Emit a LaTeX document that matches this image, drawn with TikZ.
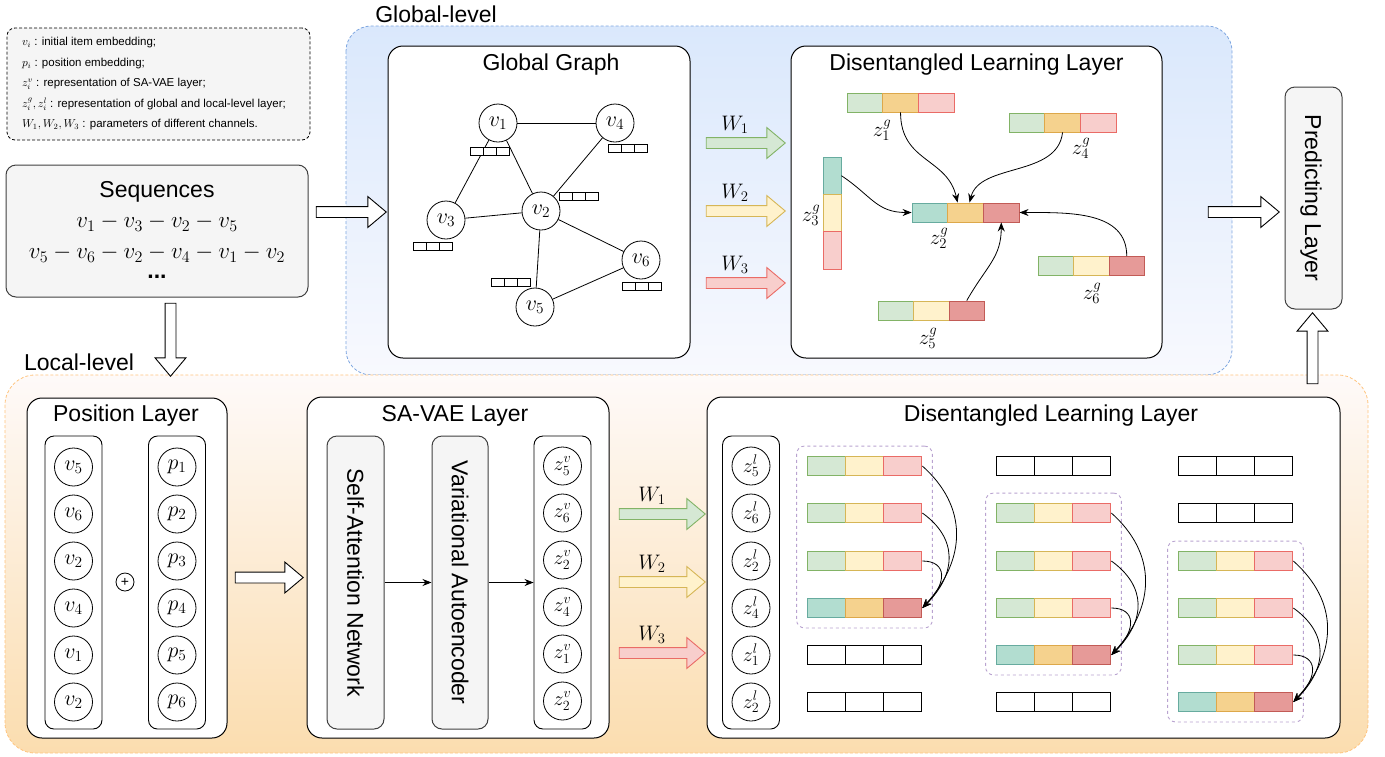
\RequirePackage{fix-cm}
\documentclass[tikz,border=0pt]{standalone}
\usepackage[no-math]{fontspec}
\setmainfont{Liberation Sans}
\usetikzlibrary{shapes.arrows,arrows.meta,fit,positioning}

\definecolor{gA}{HTML}{D5E8D4}\definecolor{gB}{HTML}{82B366}
\definecolor{yA}{HTML}{FFF2CC}\definecolor{yB}{HTML}{D6B656}
\definecolor{rA}{HTML}{F8CECC}\definecolor{rB}{HTML}{EA6B66}
\definecolor{tA}{HTML}{B2DDD0}\definecolor{tB}{HTML}{67AB9F}
\definecolor{oA}{HTML}{F5D28E}\definecolor{oB}{HTML}{DDA84A}
\definecolor{dA}{HTML}{E69A98}\definecolor{dB}{HTML}{C25B56}
\definecolor{wA}{HTML}{FFFFFF}\definecolor{wB}{HTML}{000000}
\definecolor{legF}{HTML}{F5F5F5}
\definecolor{globB}{HTML}{7EA6E0}\definecolor{globT}{HTML}{DAE8FC}\definecolor{globL}{HTML}{F8F9FE}
\definecolor{locB}{HTML}{FFC47E}\definecolor{locT}{HTML}{FEFAF9}\definecolor{locL}{HTML}{FBDDAF}
\definecolor{puB}{HTML}{B9A3D0}

\tikzset{
  ttl/.style={font=\fontsize{23}{27}\selectfont},
  mth/.style={font=\fontsize{21}{25}\selectfont},
  lyr/.style={draw, line width=1pt, rounded corners=15pt, fill=white},
  gry/.style={draw=black!75, line width=1pt, rounded corners=10pt, fill=legF},
  colbox/.style={draw, line width=0.9pt, rounded corners=9pt, fill=white, minimum width=57pt, minimum height=293pt},
  gnode/.style={draw, circle, line width=0.8pt, fill=white, minimum size=38pt, inner sep=0pt, font=\fontsize{22}{26}\selectfont},
  cnode/.style={gnode, font=\fontsize{20}{24}\selectfont},
  cell/.style={draw, line width=0.9pt, inner sep=0pt},
  blk/.style={single arrow, draw, line width=0.9pt, fill=white, inner xsep=0pt, inner ysep=5pt, minimum width=30pt, single arrow head extend=10pt, single arrow tip angle=80},
  grp/.style={draw=puB, dash pattern=on 3pt off 3pt, line width=0.9pt, rounded corners=8pt, inner sep=10pt},
  arr/.style={-{Stealth[length=9pt,width=7pt]}, line width=0.8pt},
}

% name, left x, centre y, cell width, cell height, three colours
\newcommand{\embbar}[8]{%
  \node[cell, minimum width=#4pt, minimum height=#5pt, fill=#6A, draw=#6B] (#1-1) at ({#2+0.5*#4},#3) {};
  \node[cell, minimum width=#4pt, minimum height=#5pt, fill=#7A, draw=#7B] (#1-2) at ({#2+1.5*#4},#3) {};
  \node[cell, minimum width=#4pt, minimum height=#5pt, fill=#8A, draw=#8B] (#1-3) at ({#2+2.5*#4},#3) {};
}

\begin{document}
\begin{tikzpicture}[x=1pt,y=-1pt]
  \useasboundingbox (0,0) rectangle (1385,756);

  % level backgrounds
  \path[draw=globB, dash pattern=on 3pt off 2pt, line width=0.8pt, top color=globT, bottom color=globL, rounded corners=25pt] (346,26) rectangle (1232,375);
  \path[draw=locB, dash pattern=on 3pt off 2pt, line width=0.8pt, top color=locT, bottom color=locL, rounded corners=30pt] (5,375) rectangle (1368,753);
  \node[ttl] (globlbl) at (436,14) {Global-level};
  \node[ttl] (loclbl) at (79,362) {Local-level};

  % legend
  \node[draw, fill=legF, dash pattern=on 3pt off 2pt, line width=0.8pt, rounded corners=8pt, minimum width=303pt, minimum height=112pt] (leg) at (158.5,84) {};
  \node[anchor=west, align=left, font=\fontsize{11.5}{20.5}\selectfont] (legtxt) at ([xshift=12pt]leg.west)
    {$v_i$ : initial item embedding;\\
     $p_i$ : position embedding;\\
     $z_i^v$ : representation of SA-VAE layer;\\
     $z_i^g, z_i^l$ : representation of global and local-level layer;\\
     $W_1, W_2, W_3$ : parameters of different channels.};

  % sequences
  \node[gry, minimum width=302pt, minimum height=132pt] (seq) at (157,231) {};
  \node[ttl] (seqt) at (157,192) {Sequences};
  \node[font=\fontsize{23}{27}\selectfont] (seq1) at (157,223) {$v_1 - v_3 - v_2 - v_5$};
  \node[font=\fontsize{23}{27}\selectfont] (seq2) at (157,254) {$v_5 - v_6 - v_2 - v_4 - v_1 - v_2$};
  \node[ttl] (seq3) at (157,277) {\textbf{...}};
  \node[blk, minimum height=70pt] (aseq) at (348,212) {};
  \node[blk, minimum height=73pt, rotate=-90] (adown) at (170.5,336.5) {};

  % global graph
  \node[lyr, minimum width=302pt, minimum height=312pt] (gg) at (539,202) {};
  \node[ttl] (ggt) at (551,65) {Global Graph};
  \node[gnode] (v1) at (498,123) {$v_1$};
  \node[gnode] (v4) at (615,123) {$v_4$};
  \node[gnode] (v3) at (446,220) {$v_3$};
  \node[gnode] (v2) at (541,211) {$v_2$};
  \node[gnode] (v6) at (641,260) {$v_6$};
  \node[gnode] (v5) at (535,307) {$v_5$};
  \draw[line width=0.8pt] (v1) -- (v4);
  \draw[line width=0.8pt] (v1) -- (v3);
  \draw[line width=0.8pt] (v1) -- (v2);
  \draw[line width=0.8pt] (v4) -- (v2);
  \draw[line width=0.8pt] (v3) -- (v2);
  \draw[line width=0.8pt] (v2) -- (v6);
  \draw[line width=0.8pt] (v2) -- (v5);
  \draw[line width=0.8pt] (v5) -- (v6);
  \embbar{m1}{470}{151}{13.3}{8}{w}{w}{w}
  \embbar{m4}{608}{148}{13.3}{8}{w}{w}{w}
  \embbar{m2}{559}{196}{13.3}{8}{w}{w}{w}
  \embbar{m3}{413}{246}{13.3}{8}{w}{w}{w}
  \embbar{m5}{491}{282}{13.3}{8}{w}{w}{w}
  \embbar{m6}{622}{286}{13.3}{8}{w}{w}{w}

  % channel arrows (global)
  \node[blk, fill=gA, draw=gB, minimum height=79pt] (gw1) at (742.5,143) {};
  \node[blk, fill=yA, draw=yB, minimum height=79pt] (gw2) at (742.5,211) {};
  \node[blk, fill=rA, draw=rB, minimum height=79pt] (gw3) at (742.5,283) {};
  \node[mth] (gw1l) at (735,125) {$W_1$};
  \node[mth] (gw2l) at (735,193) {$W_2$};
  \node[mth] (gw3l) at (735,265) {$W_3$};

  % disentangled learning layer (global)
  \node[lyr, minimum width=371pt, minimum height=312pt] (gdl) at (976.5,202) {};
  \node[ttl] (gdlt) at (976.5,65) {Disentangled Learning Layer};
  \embbar{z1}{847}{102.5}{35.7}{19}{g}{o}{r}
  \embbar{z4}{1009}{122.5}{35.7}{19}{g}{o}{r}
  \embbar{z2}{912}{212.5}{35.7}{19}{t}{o}{d}
  \embbar{z6}{1038}{266}{35.5}{19}{g}{y}{d}
  \embbar{z5}{878}{310.5}{35.5}{19}{g}{y}{d}
  \node[cell, minimum width=18pt, minimum height=37.3pt, fill=tA, draw=tB] (z3-1) at (832,175.7) {};
  \node[cell, minimum width=18pt, minimum height=37.3pt, fill=yA, draw=yB] (z3-2) at (832,213) {};
  \node[cell, minimum width=18pt, minimum height=37.3pt, fill=rA, draw=rB] (z3-3) at (832,250.3) {};
  \node[mth] (z1l) at (882,130) {$z_1^g$};
  \node[mth] (z4l) at (1081,148) {$z_4^g$};
  \node[mth] (z3l) at (811,215) {$z_3^g$};
  \node[mth] (z2l) at (939,238) {$z_2^g$};
  \node[mth] (z6l) at (1092,293) {$z_6^g$};
  \node[mth] (z5l) at (928,338) {$z_5^g$};
  \draw[arr] (z1-2.south) .. controls +(0,50) and +(-10,-45) .. ([xshift=-8pt]z2-2.north);
  \draw[arr] (z4-2.south) .. controls +(-5,45) and +(10,-40) .. ([xshift=4pt]z2-2.north);
  \draw[arr] (z3-1.east) .. controls +(30,20) and +(-35,0) .. (z2-1.west);
  \draw[arr] (z6-3.north) .. controls +(0,-45) and +(50,0) .. (z2-3.east);
  \draw[arr] (z5-3.north) .. controls +(20,-35) and +(0,35) .. (z2-3.south);

  % predicting layer
  \node[blk, minimum height=71pt] (apred) at (1240.5,212) {};
  \node[gry, minimum width=57pt, minimum height=222pt] (pred) at (1313.5,198) {};
  \node[ttl, rotate=-90] (predt) at (1311,198) {Predicting Layer};
  \node[blk, minimum height=71pt, rotate=90] (aup) at (1312.5,351.5) {};

  % position layer
  \node[lyr, minimum width=200pt, minimum height=340pt] (posl) at (127,568) {};
  \node[ttl] (poslt) at (126,416) {Position Layer};
  \node[colbox] (vcol) at (73.5,582.5) {};
  \node[colbox] (pcol) at (177,582.5) {};
  \node[gnode] (pv1) at (73.5,467) {$v_5$};
  \node[gnode] (pv2) at (73.5,514) {$v_6$};
  \node[gnode] (pv3) at (73.5,561) {$v_2$};
  \node[gnode] (pv4) at (73.5,608) {$v_4$};
  \node[gnode] (pv5) at (73.5,655) {$v_1$};
  \node[gnode] (pv6) at (73.5,702) {$v_2$};
  \node[gnode] (pp1) at (177,467) {$p_1$};
  \node[gnode] (pp2) at (177,514) {$p_2$};
  \node[gnode] (pp3) at (177,561) {$p_3$};
  \node[gnode] (pp4) at (177,608) {$p_4$};
  \node[gnode] (pp5) at (177,655) {$p_5$};
  \node[gnode] (pp6) at (177,702) {$p_6$};
  \node[draw, circle, line width=0.8pt, minimum size=18pt, inner sep=0pt, font=\fontsize{14}{16}\selectfont] (plus) at (125,582) {+};
  \node[blk, minimum height=68pt] (apos) at (266,577.5) {};

  % SA-VAE layer
  \node[lyr, minimum width=302pt, minimum height=341pt] (sav) at (458,567.5) {};
  \node[ttl] (savt) at (455,416) {SA-VAE Layer};
  \node[gry, minimum width=57pt, minimum height=293pt] (san) at (355.5,582.5) {};
  \node[ttl, rotate=-90] (sant) at (355.5,582.5) {Self-Attention Network};
  \node[gry, minimum width=56pt, minimum height=293pt] (vae) at (460,582.5) {};
  \node[ttl, rotate=-90] (vaet) at (460,582.5) {Variational Autoencoder};
  \node[colbox] (zvcol) at (562.5,582.5) {};
  \node[cnode] (zv1) at (562.5,466) {$z_5^v$};
  \node[cnode] (zv2) at (562.5,513) {$z_6^v$};
  \node[cnode] (zv3) at (562.5,560) {$z_2^v$};
  \node[cnode] (zv4) at (562.5,607) {$z_4^v$};
  \node[cnode] (zv5) at (562.5,654) {$z_1^v$};
  \node[cnode] (zv6) at (562.5,701) {$z_2^v$};
  \draw[arr] (san.east) -- (vae.west);
  \draw[arr] (vae.east) -- (zvcol.west);

  % channel arrows (local)
  \node[blk, fill=gA, draw=gB, minimum height=86pt] (lw1) at (659,514) {};
  \node[blk, fill=yA, draw=yB, minimum height=86pt] (lw2) at (659,582) {};
  \node[blk, fill=rA, draw=rB, minimum height=86pt] (lw3) at (659,653) {};
  \node[mth] (lw1l) at (652,496) {$W_1$};
  \node[mth] (lw2l) at (652,564) {$W_2$};
  \node[mth] (lw3l) at (652,635) {$W_3$};

  % disentangled learning layer (local)
  \node[lyr, minimum width=633pt, minimum height=341pt] (ldl) at (1023.5,567.5) {};
  \node[ttl] (ldlt) at (1051,416) {Disentangled Learning Layer};
  \node[colbox] (zlcol) at (751,582.5) {};
  \node[cnode] (zl1) at (751,466) {$z_5^l$};
  \node[cnode] (zl2) at (751,513) {$z_6^l$};
  \node[cnode] (zl3) at (751,561) {$z_2^l$};
  \node[cnode] (zl4) at (751,608) {$z_4^l$};
  \node[cnode] (zl5) at (751,655) {$z_1^l$};
  \node[cnode] (zl6) at (751,702) {$z_2^l$};

  \embbar{b11}{807}{466}{38.3}{19}{g}{y}{r}
  \embbar{b12}{807}{513}{38.3}{19}{g}{y}{r}
  \embbar{b13}{807}{561}{38.3}{19}{g}{y}{r}
  \embbar{b14}{807}{608}{38.3}{19}{t}{o}{d}
  \embbar{b15}{807}{655}{38.3}{19}{w}{w}{w}
  \embbar{b16}{807}{702}{38.3}{19}{w}{w}{w}
  \embbar{b21}{996}{466}{38.3}{19}{w}{w}{w}
  \embbar{b22}{996}{513}{38.3}{19}{g}{y}{r}
  \embbar{b23}{996}{561}{38.3}{19}{g}{y}{r}
  \embbar{b24}{996}{608}{38.3}{19}{g}{y}{r}
  \embbar{b25}{996}{655}{38.3}{19}{t}{o}{d}
  \embbar{b26}{996}{702}{38.3}{19}{w}{w}{w}
  \embbar{b31}{1178}{466}{38.3}{19}{w}{w}{w}
  \embbar{b32}{1178}{513}{38.3}{19}{w}{w}{w}
  \embbar{b33}{1178}{561}{38.3}{19}{g}{y}{r}
  \embbar{b34}{1178}{608}{38.3}{19}{g}{y}{r}
  \embbar{b35}{1178}{655}{38.3}{19}{g}{y}{r}
  \embbar{b36}{1178}{702}{38.3}{19}{t}{o}{d}

  \node[grp, fit=(b11-1)(b14-3)] (grp1) {};
  \node[grp, fit=(b22-1)(b25-3)] (grp2) {};
  \node[grp, fit=(b33-1)(b36-3)] (grp3) {};

  \draw[arr] (b11-3.east) .. controls +(45,40) and +(45,-50) .. (b14-3.east);
  \draw[arr] (b12-3.east) .. controls +(35,25) and +(35,-35) .. (b14-3.east);
  \draw[arr] (b13-3.east) .. controls +(25,0) and +(25,-25) .. (b14-3.east);
  \draw[arr] (b22-3.east) .. controls +(45,40) and +(45,-50) .. (b25-3.east);
  \draw[arr] (b23-3.east) .. controls +(35,25) and +(35,-35) .. (b25-3.east);
  \draw[arr] (b24-3.east) .. controls +(25,0) and +(25,-25) .. (b25-3.east);
  \draw[arr] (b33-3.east) .. controls +(45,40) and +(45,-50) .. (b36-3.east);
  \draw[arr] (b34-3.east) .. controls +(35,25) and +(35,-35) .. (b36-3.east);
  \draw[arr] (b35-3.east) .. controls +(25,0) and +(25,-25) .. (b36-3.east);
\end{tikzpicture}
\end{document}
